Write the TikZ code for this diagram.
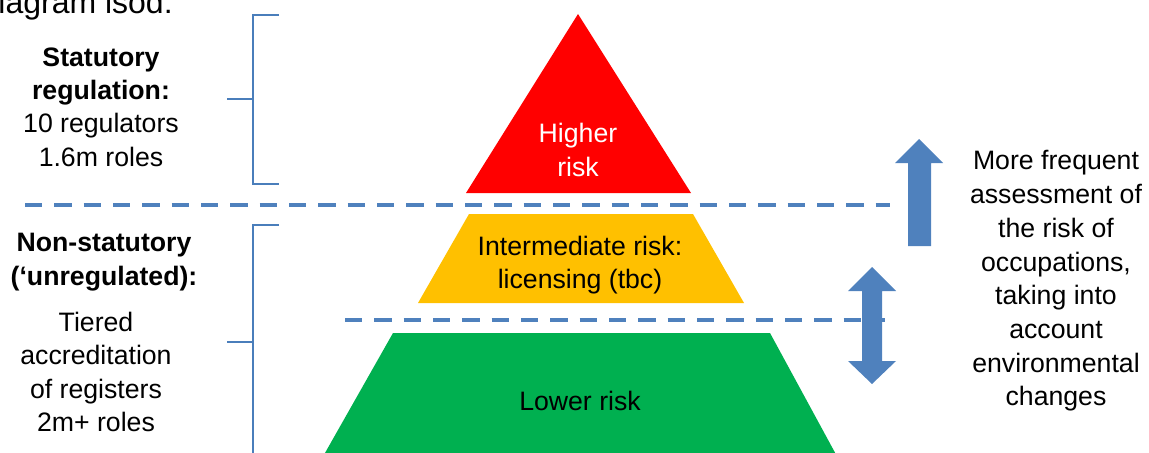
\documentclass[tikz,border=0pt]{standalone}
\usepackage{fontspec}
\setmainfont{Liberation Sans}
\definecolor{obl}{HTML}{4F81BD}
\definecolor{brk}{HTML}{4A7EBB}
\definecolor{pred}{HTML}{FF0000}
\definecolor{pyel}{HTML}{FFC000}
\definecolor{pgrn}{HTML}{00B050}
\begin{document}
\begin{tikzpicture}[x=0.75pt,y=-0.75pt,
  bracket/.style={draw=brk, line width=1.5pt},
  sep/.style={draw=obl, line width=3pt, dash pattern=on 13pt off 9pt},
  txt/.style={font=\fontsize{20}{25}\selectfont, align=center, inner sep=0pt},
  bigarrow/.style={fill=obl}]
\useasboundingbox (0,0) rectangle (1149,453);
\clip (0,0) rectangle (1149,453);
% title (cut off)
\node[anchor=base east, inner sep=0pt, font=\fontsize{24}{28}\selectfont] (title) at (173,14) {Diagram isod:};
% pyramid
\fill[pred] (578,14) -- (691,193) -- (466,193) -- cycle;
\fill[pyel] (469,214) -- (693,214) -- (744,303) -- (418,303) -- cycle;
\fill[pgrn] (393,333) -- (770,333) -- (839,460) -- (321,460) -- cycle;
\node[txt, text=white] (high) at (578,150) {Higher\\risk};
\node[txt] (mid) at (580,265) {Intermediate risk:\\licensing (tbc)};
\node[txt] (low) at (580,401) {Lower risk};
% separators
\draw[sep] (25,205) -- (890,205);
\draw[sep] (345,320) -- (885,320);
% brackets
\draw[bracket] (279,15) -- (253,15) -- (253,184) -- (279,184);
\draw[bracket] (227,99) -- (253,99);
\draw[bracket] (279,225) -- (253,225) -- (253,460);
\draw[bracket] (227,342) -- (253,342);
% left texts
\node[txt] (stat) at (101,107) {\textbf{Statutory}\\\textbf{regulation:}\\10 regulators\\1.6m roles};
\node[txt, font=\fontsize{20}{25}\selectfont\bfseries] (nonstat) at (104,262) {Non-statutory\\(‘unregulated):};
\node[txt] (tier) at (96,372) {Tiered\\accreditation\\of registers\\2m+ roles};
% arrows
\fill[bigarrow] (908,246) -- (908,163) -- (895,163) -- (919,139) -- (943,163) -- (931,163) -- (931,246) -- cycle;
\fill[bigarrow] (862,291) -- (848,291) -- (872,267) -- (896,291) -- (882,291) -- (882,361) -- (896,361) -- (872,384) -- (848,361) -- (862,361) -- cycle;
% right text
\node[txt, font=\fontsize{20}{25.3}\selectfont] (more) at (1056,281) {More frequent\\assessment of\\the risk of\\occupations,\\taking into\\account\\environmental\\changes};
\end{tikzpicture}
\end{document}
